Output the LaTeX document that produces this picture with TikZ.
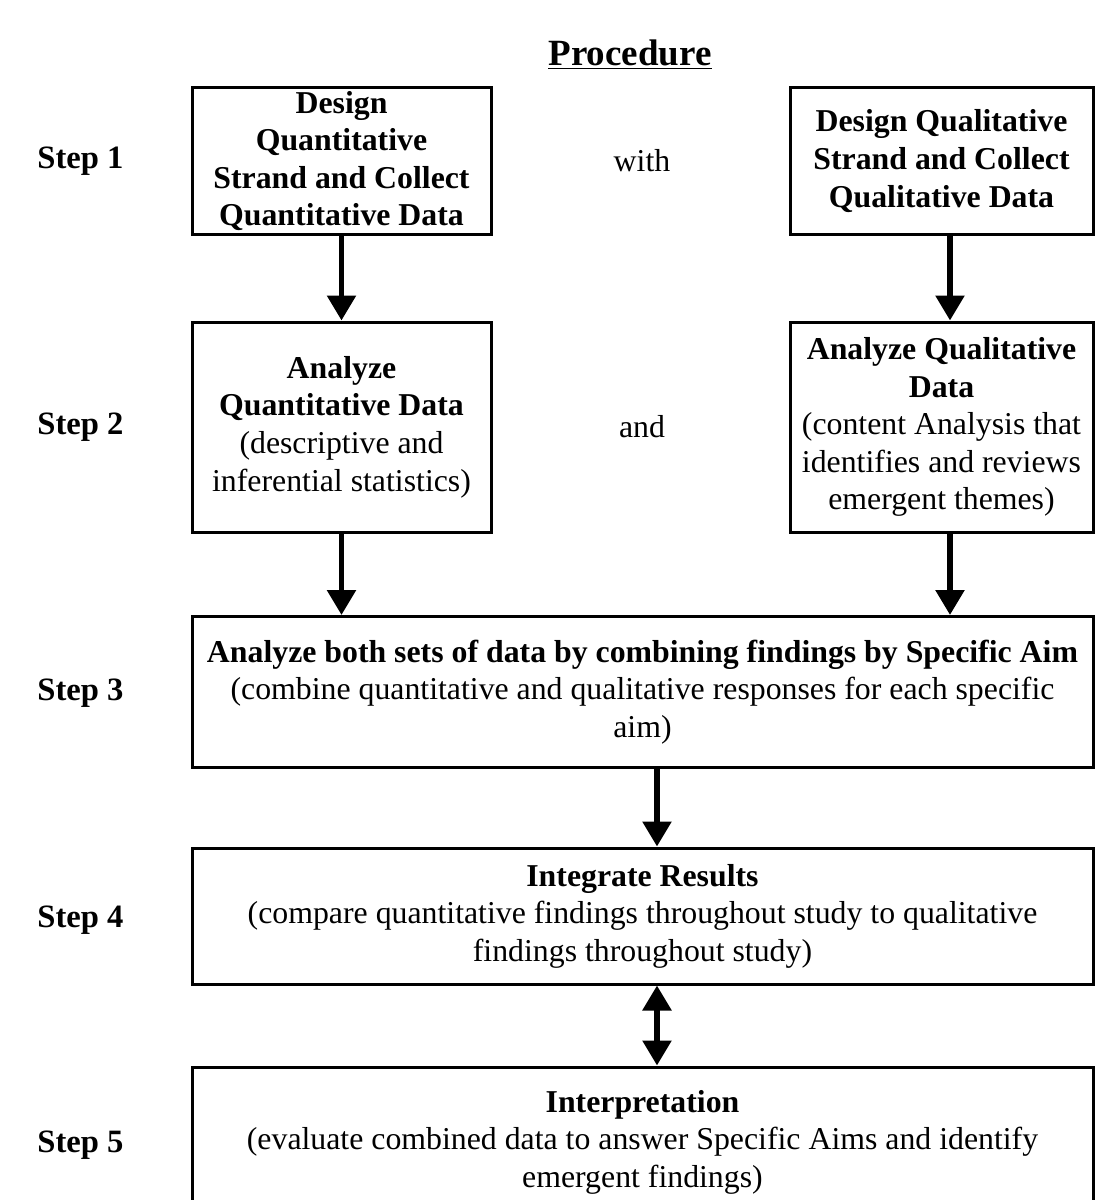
\documentclass[tikz,border=0pt]{standalone}
\usepackage{fontspec}
\setmainfont{Liberation Serif}
\usetikzlibrary{arrows.meta,positioning}

\begin{document}
\begin{tikzpicture}[
			x=0.5pt, y=-0.5pt,
			mmbox/.style={draw=black, line width=1.5pt, align=center, inner sep=0pt,
				font=\fontsize{15.9}{18.8}\selectfont},
			mmarr/.style={-{Triangle[width=14pt,length=12.5pt]}, line width=2.8pt},
			steplab/.style={anchor=west, inner sep=0pt, font=\fontsize{16.3}{18.8}\selectfont\bfseries},
			midword/.style={font=\fontsize{15.9}{18.8}\selectfont}
		]
			\useasboundingbox (0,0) rectangle (1096,1200);
			\node[font=\fontsize{18.5}{20}\selectfont\bfseries] (title) at (630,55) {\underline{Procedure}};
			% step labels
			\node[steplab] (s1) at (37,161) {Step 1};
			\node[steplab] (s2) at (37,427) {Step 2};
			\node[steplab] (s3) at (37,693) {Step 3};
			\node[steplab] (s4) at (37,920) {Step 4};
			\node[steplab] (s5) at (37,1145) {Step 5};
			% the two strands
			\node[mmbox, minimum width=149.5pt, minimum height=73.5pt] (quan1) at (341.5,161)
				{\textbf{Design}\\\textbf{Quantitative}\\\textbf{Strand and Collect}\\\textbf{Quantitative Data}};
			\node[mmbox, minimum width=151.5pt, minimum height=73.5pt] (qual1) at (941.5,161)
				{\textbf{Design Qualitative}\\\textbf{Strand and Collect}\\\textbf{Qualitative Data}};
			\node[midword] (with) at (642,161) {with};
			\node[mmbox, minimum width=149.5pt, minimum height=105pt] (quan2) at (341.5,427)
				{\textbf{Analyze}\\\textbf{Quantitative Data}\\(descriptive and\\inferential statistics)};
			\node[mmbox, minimum width=151.5pt, minimum height=105pt] (qual2) at (941.5,427)
				{\textbf{Analyze Qualitative}\\\textbf{Data}\\(content Analysis that\\identifies and reviews\\emergent themes)};
			\node[midword] (and) at (642,427) {and};
			% merged steps
			\node[mmbox, minimum width=450.5pt, minimum height=75.5pt] (comb) at (642.5,692)
				{\textbf{Analyze both sets of data by combining findings by Specific Aim}\\(combine quantitative and qualitative responses for each specific\\aim)};
			\node[mmbox, minimum width=450.5pt, minimum height=68pt] (integ) at (642.5,916)
				{\textbf{Integrate Results}\\(compare quantitative findings throughout study to qualitative\\findings throughout study)};
			\node[mmbox, minimum width=450.5pt, minimum height=75pt] (interp) at (642.5,1142)
				{\textbf{Interpretation}\\(evaluate combined data to answer Specific Aims and identify\\emergent findings)};
			\draw[mmarr] (quan1.south) -- (quan2.north);
			\draw[mmarr] ([xshift=4.25pt]qual1.south) -- ([xshift=4.25pt]qual2.north);
			\draw[mmarr] (quan2.south) -- (quan2.south |- comb.north);
			\draw[mmarr] ([xshift=4.25pt]qual2.south) -- ([xshift=4.25pt]qual2.south |- comb.north);
			\draw[mmarr] ([xshift=7.25pt]comb.south) -- ([xshift=7.25pt]integ.north);
			\draw[mmarr, {Triangle[width=14pt,length=12.5pt]}-{Triangle[width=14pt,length=12.5pt]}] ([xshift=7.25pt]integ.south) -- ([xshift=7.25pt]interp.north);
		\end{tikzpicture}
\end{document}
